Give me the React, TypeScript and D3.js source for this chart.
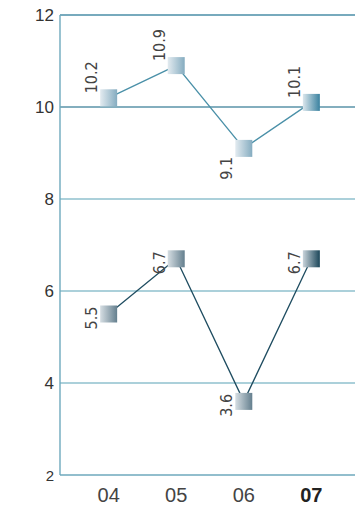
import React from 'react';
import * as d3 from 'd3';

// chart values
const years = ['04', '05', '06', '07'];
const upperValues = [10.2, 10.9, 9.1, 10.1];
const lowerValues = [5.5, 6.7, 3.6, 6.7];
const upperLabelPos = ['above', 'above', 'below', 'above'];
const lowerLabelPos = ['side', 'side', 'side', 'side'];
const yTicks = [2, 4, 6, 8, 10, 12];
const boldYear = '07';

const W = 355, H = 508;
const left = 60, top = 15, bottom = 475;
const box = 17;

const App = () => {
  const x = d3.scalePoint<string>().domain(years).range([left, 360]).padding(0.72);
  const y = d3.scaleLinear().domain([2, 12]).range([bottom, top]);

  const line = d3.line<number>()
    .x((d, i) => x(years[i]) as number)
    .y(d => y(d));

  const gridColor = (t: number) => {
    if (t === 12) return '#4a8ea7';
    if (t === 10) return '#5a93a8';
    if (t === 2) return '#6ea9bd';
    return '#8fc0ce';
  };

  const labels = (vals: number[], pos: string[]) =>
    vals.map((v, i) => {
      const cx = x(years[i]) as number;
      const cy = y(v);
      const tx = cx - box / 2 - 3;
      let ty = cy, anchor = 'middle';
      if (pos[i] === 'above') { ty = cy - box / 2 + 4; anchor = 'start'; }
      else if (pos[i] === 'below') { ty = cy + box / 2; anchor = 'end'; }
      else { ty = cy + 4; anchor = 'middle'; }
      return (
        <text key={i} transform={`translate(${tx},${ty}) rotate(-90)`} textAnchor={anchor}
          fontFamily="'Liberation Sans Narrow', 'DejaVu Sans Condensed', sans-serif" fontSize={16} fill="#444">
          {v.toFixed(1)}
        </text>
      );
    });

  const markers = (vals: number[], grad: string, gradEm: string) =>
    vals.map((v, i) => (
      <rect key={i} x={(x(years[i]) as number) - box / 2} y={y(v) - box / 2} width={box} height={box}
        fill={`url(#${years[i] === boldYear ? gradEm : grad})`} />
    ));

  return (
    <svg width={W} height={H} style={{ position: 'absolute', left: 0, top: 0, background: '#fff' }}>
      <defs>
        <linearGradient id="gTop" x1="0" x2="1" y1="0" y2="0">
          <stop offset="0" stopColor="#e3ebf0" />
          <stop offset="1" stopColor="#85acc0" />
        </linearGradient>
        <linearGradient id="gTopEm" x1="0" x2="1" y1="0" y2="0">
          <stop offset="0" stopColor="#dbe6ec" />
          <stop offset="1" stopColor="#3a82a0" />
        </linearGradient>
        <linearGradient id="gBot" x1="0" x2="1" y1="0" y2="0">
          <stop offset="0" stopColor="#d6dee3" />
          <stop offset="1" stopColor="#647f8e" />
        </linearGradient>
        <linearGradient id="gBotEm" x1="0" x2="1" y1="0" y2="0">
          <stop offset="0" stopColor="#c9d4db" />
          <stop offset="1" stopColor="#1b4659" />
        </linearGradient>
      </defs>

      {yTicks.map(t => (
        <g key={t}>
          <line x1={left} x2={W} y1={y(t)} y2={y(t)} stroke={gridColor(t)} strokeWidth={1.4} />
          <text x={54} y={y(t) + 6} textAnchor="end" fontFamily="'Liberation Sans', Arial, sans-serif"
            fontSize={t === 2 ? 15 : 17} fill="#333">{t}</text>
        </g>
      ))}
      <line x1={left} x2={left} y1={top} y2={bottom} stroke="#6ea9bd" strokeWidth={1.4} />

      {years.map(yr => (
        <text key={yr} x={x(yr) as number} y={502} textAnchor="middle"
          fontFamily="'Liberation Sans', Arial, sans-serif" fontSize={20}
          fontWeight={yr === boldYear ? 'bold' : 'normal'} fill={yr === boldYear ? '#222' : '#444'}>{yr}</text>
      ))}

      <path d={line(upperValues) as string} fill="none" stroke="#4a90a8" strokeWidth={1.3} />
      <path d={line(lowerValues) as string} fill="none" stroke="#1f4d61" strokeWidth={1.3} />

      {markers(upperValues, 'gTop', 'gTopEm')}
      {markers(lowerValues, 'gBot', 'gBotEm')}

      {labels(upperValues, upperLabelPos)}
      {labels(lowerValues, lowerLabelPos)}
    </svg>
  );
};

export default App;
